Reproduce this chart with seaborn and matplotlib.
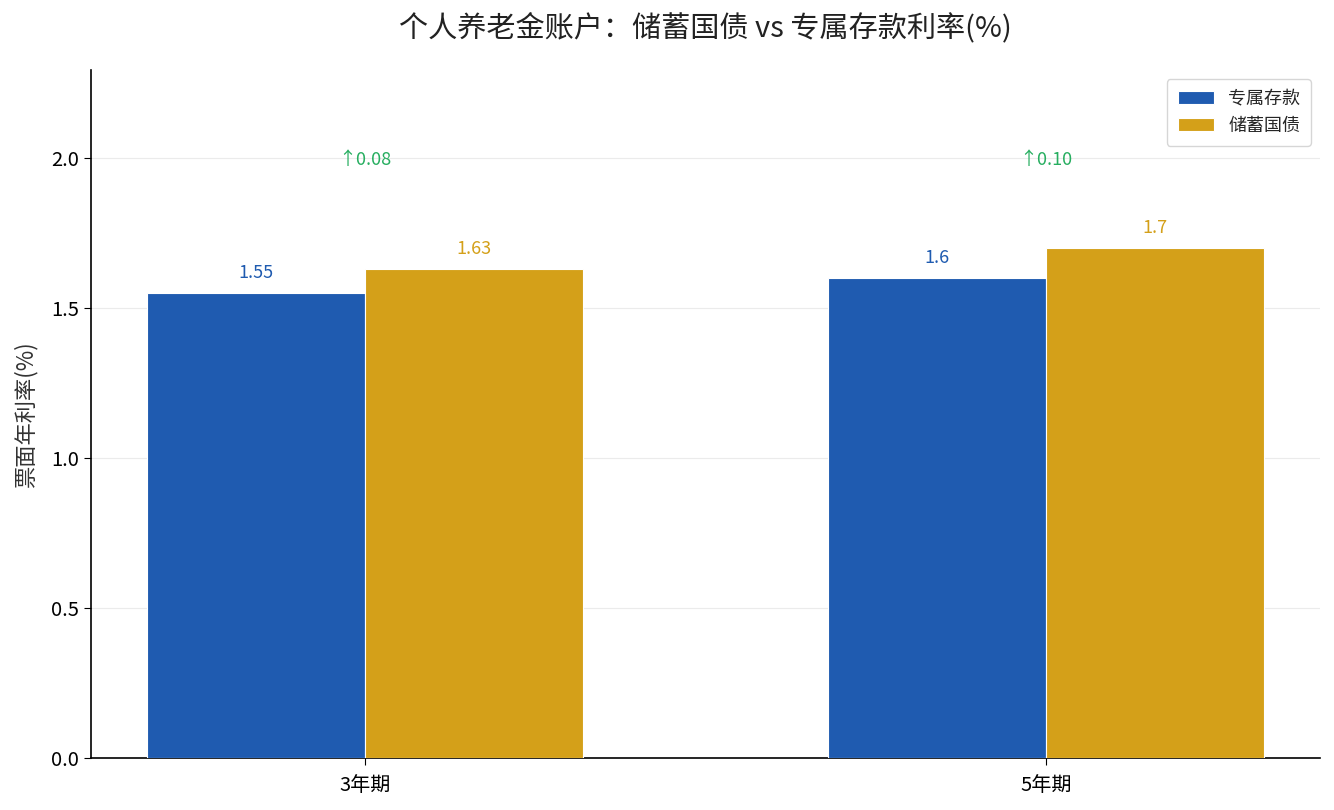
import matplotlib
matplotlib.use("Agg")
import matplotlib.pyplot as plt
import seaborn as sns
import pandas as pd

terms = ["3年期", "5年期"]
series_names = ["专属存款", "储蓄国债"]
deposit_rates = [1.55, 1.60]
bond_rates = [1.63, 1.70]
diff_labels = ["↑0.08", "↑0.10"]

colors = ["#1F5BB0", "#D4A019"]
diff_color = "#27AE60"

sns.set_style("ticks")
plt.rcParams['font.family'] = ['Noto Sans CJK SC', 'DejaVu Sans']
plt.rcParams['axes.unicode_minus'] = False

rows = []
for t, d, b in zip(terms, deposit_rates, bond_rates):
    rows.append({"期限": t, "类型": series_names[0], "利率": d})
    rows.append({"期限": t, "类型": series_names[1], "利率": b})
df = pd.DataFrame(rows)

fig = plt.figure(figsize=(13.34, 8.10), dpi=100)
ax = fig.add_axes([0.068, 0.0642, 0.9215, 0.8494])

sns.barplot(data=df, x="期限", y="利率", hue="类型", order=terms,
            hue_order=series_names, palette=colors, width=0.64,
            saturation=1, edgecolor="white", linewidth=0.8, ax=ax, zorder=3)

ax.set_xlim(-0.402, 1.402)
ax.set_ylim(0, 1.7 * 1.35)
ax.set_yticks([0.0, 0.5, 1.0, 1.5, 2.0])
ax.yaxis.grid(True, color="#ebebeb", linewidth=0.8, zorder=0)
ax.set_axisbelow(True)
sns.despine(ax=ax)
for s in ["left", "bottom"]:
    ax.spines[s].set_color("black")
    ax.spines[s].set_linewidth(1.2)
ax.tick_params(axis="both", labelsize=14.5, colors="black", length=5)
ax.tick_params(axis="x", pad=7)

ax.set_xlabel("")
ax.set_ylabel("票面年利率(%)", fontsize=16, color="#333333", labelpad=10)
ax.set_title("个人养老金账户：储蓄国债 vs 专属存款利率(%)", fontsize=21,
             color="#222222", pad=24)

for cont, col in zip(ax.containers, colors):
    for bar in cont:
        h = bar.get_height()
        ax.annotate(f"{h:g}", (bar.get_x() + bar.get_width() / 2, h),
                    xytext=(0, 8), textcoords="offset points",
                    ha="center", va="bottom", fontsize=13, color=col)

for i, lab in enumerate(diff_labels):
    ax.text(i, 2.0, lab, ha="center", va="center_baseline", fontsize=13,
            color=diff_color)

leg = ax.legend(loc="upper right", fontsize=13, frameon=True,
                handlelength=2.0, borderpad=0.6)
leg.get_frame().set_edgecolor("#cccccc")
leg.set_title(None)

fig.savefig("out.png", dpi=100)
